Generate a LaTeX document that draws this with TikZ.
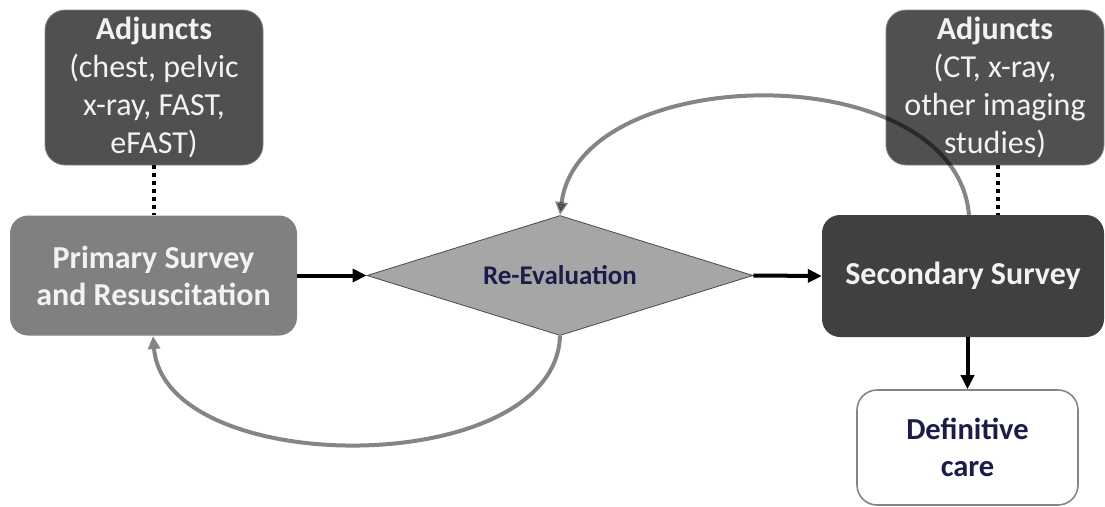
\documentclass[tikz,border=0pt]{standalone}
\usepackage{fontspec}
\setmainfont{Carlito}
\usetikzlibrary{shapes.geometric,arrows.meta}
\definecolor{adjfill}{HTML}{505050}
\definecolor{primfill}{HTML}{808080}
\definecolor{secfill}{HTML}{404040}
\definecolor{diafill}{HTML}{A6A6A6}
\definecolor{diaedge}{HTML}{4A4A4A}
\definecolor{navy}{HTML}{1C1C4A}
\definecolor{loopgray}{HTML}{858585}
\definecolor{boxtext}{HTML}{F2F2F2}
\tikzset{
  adjbox/.style={draw=adjfill!70!white, line width=0.8pt, fill=adjfill, rounded corners=20pt,
    minimum width=218pt, minimum height=155pt, inner sep=0pt, align=center,
    text=boxtext, font=\fontsize{32}{38}\selectfont},
  surveybox/.style={rounded corners=18pt, inner sep=0pt, align=center,
    text=boxtext, font=\bfseries\fontsize{32}{37}\selectfont},
  decision/.style={diamond, aspect=3.2, draw=diaedge, line width=0.8pt, fill=diafill, inner sep=0pt,
    minimum width=386pt, minimum height=120pt, text=navy,
    font=\bfseries\fontsize{27}{31}\selectfont},
  endbox/.style={draw=loopgray, line width=1.6pt, fill=white, rounded corners=20pt,
    minimum width=221pt, minimum height=115pt, inner sep=0pt, align=center,
    text=navy, font=\bfseries\fontsize{30.5}{37}\selectfont},
  flow/.style={line width=4pt, -{Triangle[length=14pt,width=13pt]}},
  loop/.style={draw=loopgray, line width=4pt, -{Triangle[length=13pt,width=12pt]}},
  tether/.style={line width=4pt, dash pattern=on 4pt off 4pt}
}
\begin{document}
\begin{tikzpicture}[x=1pt,y=-1pt]
\useasboundingbox (0,0) rectangle (1105,506);

% main flow
\node[surveybox, fill=primfill, minimum width=287pt, minimum height=120pt] (prim) at (153.5,275.5)
  {Primary Survey\\and Resuscitation};
\node[decision] (reval) at (560,275.5) {Re-Evaluation};
\node[surveybox, fill=secfill, minimum width=282pt, minimum height=122pt] (sec) at (963,276)
  {Secondary Survey};
\node[endbox] (care) at (967.5,447.5) {Definitive\\care};

% adjunct studies
\node[adjbox] (adjL) at (154,87.5)
  {\textbf{Adjuncts}\\(chest, pelvic\\x-ray, FAST,\\eFAST)};
\node[adjbox] (adjR) at (995,87.5)
  {\textbf{Adjuncts}\\(CT, x-ray,\\other imaging\\studies)};

% dotted links to the adjuncts
\coordinate (tetherR) at ([xshift=3pt]adjR.south);
\draw[tether] (adjL.south) -- (prim.north -| adjL.south);
\draw[tether] (tetherR) -- (sec.north -| tetherR);

% forward arrows
\draw[flow] (prim.east) -- (reval.west);
\draw[flow] (reval.east) -- (sec.west);
\draw[flow] (sec.south -| care.north) -- (care.north);

% re-evaluation loops
\coordinate (secTop) at (969,215);
\draw[loop, blend mode=multiply] (secTop) .. controls (955,55) and (580,60) .. (reval.north);
\coordinate (primBot) at (153,336);
\draw[loop] (reval.south) .. controls (555,480) and (165,480) .. (primBot);
\end{tikzpicture}
\end{document}
